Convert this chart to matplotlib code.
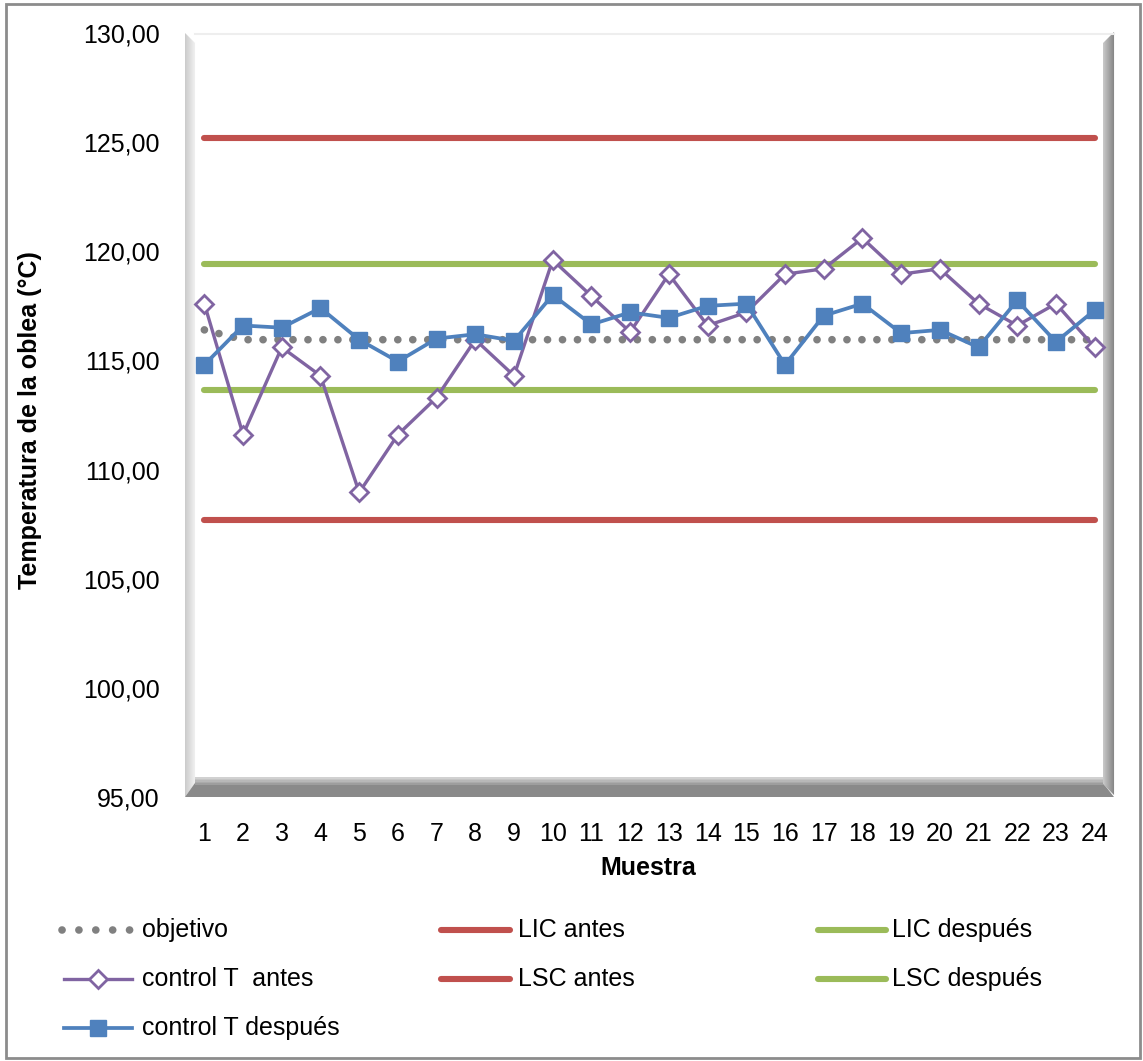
import matplotlib
matplotlib.use("Agg")
import matplotlib.pyplot as plt
from matplotlib.patches import Polygon, Rectangle
from matplotlib.lines import Line2D
import numpy as np

plt.rcParams['font.family'] = ['Liberation Sans', 'DejaVu Sans']

# ---------------- data ----------------
muestras = list(range(1, 25))
objetivo = [116.4] + [115.95] * 23
control_antes = [117.6, 111.6, 115.6, 114.3, 108.95, 111.6, 113.3, 115.95, 114.3, 119.6,
                 117.95, 116.3, 118.95, 116.6, 117.2, 118.95, 119.2, 120.6, 118.95, 119.2,
                 117.6, 116.6, 117.6, 115.6]
control_despues = [114.8, 116.6, 116.5, 117.4, 115.95, 114.95, 116.0, 116.2, 115.9, 118.0,
                   116.65, 117.2, 116.95, 117.5, 117.6, 114.8, 117.05, 117.6, 116.25, 116.4,
                   115.6, 117.75, 115.85, 117.3]
lic_antes = [107.67] * 24
lsc_antes = [125.2] * 24
lic_despues = [113.65] * 24
lsc_despues = [119.4] * 24
yticks = [95, 100, 105, 110, 115, 120, 125, 130]
ytick_labels = ['95,00', '100,00', '105,00', '110,00', '115,00', '120,00', '125,00', '130,00']

C_PURPLE = '#8064A2'
C_BLUE = '#4F81BD'
C_RED = '#C0504D'
C_GREEN = '#9BBB59'
C_GRAY = '#808080'

W, H = 1143, 1061
fig = plt.figure(figsize=(W / 100, H / 100), dpi=100)

def fx(px):
    return px / W

def fy(py):
    return 1 - py / H

# axes: x from 185 to 1114 px, y 130 -> 33 px, 95 -> 797 px
ax = fig.add_axes([fx(185), fy(797), fx(1114) - fx(185), fy(33) - fy(797)])
ax.set_xlim(0.5, 24.5)
ax.set_ylim(95, 130)
ax.patch.set_alpha(0)
for s in ax.spines.values():
    s.set_visible(False)

# 3D-like walls (drawn in figure pixel coords)
def poly(pts, color, z=0):
    p = Polygon([(fx(x), fy(y)) for x, y in pts], closed=True, facecolor=color,
                edgecolor='none', transform=fig.transFigure, zorder=z)
    fig.add_artist(p)

# left wall gradient
n = 10
for i in range(n):
    x0 = 185 + i * 1.0
    x1 = x0 + 1.05
    c = 0.80 + 0.15 * i / n
    poly([(x0, 33 + i), (x1, 34 + i), (x1, 797 - 14 * (i + 1) / n), (x0, 797 - 14 * i / n)], (c, c, c))
# floor
poly([(185, 797), (195, 783), (1103, 783), (1114, 797)], '#8a8a8a')
for i in range(5):
    c = 0.62 + 0.05 * i
    poly([(195, 783 - i * 1.5), (1103, 783 - i * 1.5), (1103, 783 - (i - 1) * 1.5), (195, 783 - (i - 1) * 1.5)], (c, c, c))
# right wall gradient
for i in range(11):
    x0 = 1103 + i
    x1 = x0 + 1.05
    c = 0.78 - 0.27 * i / 11
    poly([(x0, 43 - i), (x1, 42 - i), (x1, 784 + i + 1), (x0, 784 + i)], (c, c, c))
# top edge
fig.add_artist(Line2D([fx(195), fx(1114)], [fy(33.5), fy(33.5)], color='#eeeeee', lw=1.5,
                      transform=fig.transFigure))

# limit lines
lw_lim = 4.4
ax.plot(muestras, lic_antes, color=C_RED, lw=lw_lim, solid_capstyle='round', zorder=2)
ax.plot(muestras, lsc_antes, color=C_RED, lw=lw_lim, solid_capstyle='round', zorder=2)
ax.plot(muestras, lic_despues, color=C_GREEN, lw=lw_lim, solid_capstyle='round', zorder=2)
ax.plot(muestras, lsc_despues, color=C_GREEN, lw=lw_lim, solid_capstyle='round', zorder=2)
# objetivo dotted
ax.plot(muestras, objetivo, color=C_GRAY, lw=5.5, linestyle=(0, (0.01, 1.95)),
        dash_capstyle='round', zorder=3)
# control antes
ax.plot(muestras, control_antes, color=C_PURPLE, lw=2.4, marker='D', markersize=9,
        markerfacecolor='white', markeredgecolor=C_PURPLE, markeredgewidth=2, zorder=4)
# control despues
ax.plot(muestras, control_despues, color=C_BLUE, lw=2.7, marker='s', markersize=11.5,
        markerfacecolor=C_BLUE, markeredgecolor=C_BLUE, zorder=5)

ax.set_xticks(muestras)
ax.set_xticklabels([str(m) for m in muestras], fontsize=18)
ax.set_yticks(yticks)
ax.set_yticklabels(ytick_labels, fontsize=18)
ax.tick_params(axis='both', length=0)
ax.tick_params(axis='x', pad=18)
ax.tick_params(axis='y', pad=18)

fig.text(fx(648), fy(868), 'Muestra', ha='center', va='center', fontsize=18, fontweight='bold')
fig.text(fx(30), fy(420), 'Temperatura de la oblea (°C)', ha='center', va='center',
         rotation=90, fontsize=18, fontweight='bold')

# legend (manual)
def leg_entry(x0, x1, y, tx, label, **kw):
    marker = kw.pop('marker', None)
    l = Line2D([fx(x0), fx(x1)], [fy(y), fy(y)], transform=fig.transFigure, **kw)
    fig.add_artist(l)
    if marker is not None:
        m = Line2D([fx((x0 + x1) / 2)], [fy(y)], transform=fig.transFigure, linestyle='none',
                   **marker)
        fig.add_artist(m)
    fig.text(fx(tx), fy(y), label, ha='left', va='center', fontsize=18)

r1, r2, r3 = 930, 979, 1028
leg_entry(62, 132, r1, 142, 'objetivo', color=C_GRAY, lw=5.5, linestyle=(0, (0.01, 2.2)),
          dash_capstyle='round')
leg_entry(64, 132, r2, 142, 'control T  antes', color=C_PURPLE, lw=2.4,
          marker=dict(marker='D', markersize=9, markerfacecolor='white',
                      markeredgecolor=C_PURPLE, markeredgewidth=2))
leg_entry(64, 132, r3, 142, 'control T después', color=C_BLUE, lw=2.7,
          marker=dict(marker='s', markersize=11.5, markerfacecolor=C_BLUE,
                      markeredgecolor=C_BLUE))
leg_entry(441, 510, r1, 518, 'LIC antes', color=C_RED, lw=lw_lim, solid_capstyle='round')
leg_entry(441, 510, r2, 518, 'LSC antes', color=C_RED, lw=lw_lim, solid_capstyle='round')
leg_entry(818, 886, r1, 892, 'LIC después', color=C_GREEN, lw=lw_lim, solid_capstyle='round')
leg_entry(818, 886, r2, 892, 'LSC después', color=C_GREEN, lw=lw_lim, solid_capstyle='round')

# outer border
fig.add_artist(Rectangle((fx(6), fy(1058)), fx(1140) - fx(6), fy(4) - fy(1058), fill=False,
                         edgecolor='#8c8c8c', lw=2, transform=fig.transFigure))

fig.savefig('out.png', dpi=100)
